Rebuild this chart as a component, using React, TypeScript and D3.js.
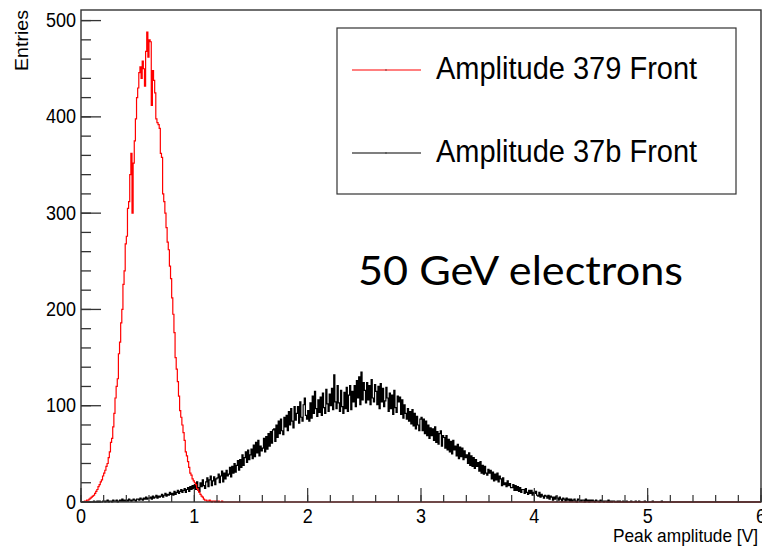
import React from "react";
import * as d3 from "d3";

const BIN = 0.01;
const NBINS = 600;

// Amplitude 379 Front, 0.01 V bins starting at 0.00 V
const redStart = 0.0;
const redCounts = [
  0, 0, 0, 1, 1, 2, 2, 3, 4, 5,
  6, 7, 9, 11, 13, 16, 18, 21, 23, 27,
  30, 33, 37, 40, 46, 52, 62, 66, 78, 92,
  108, 120, 128, 154, 166, 186, 200, 226, 240, 268,
  276, 305, 312, 340, 362, 300, 352, 375, 398, 420,
  430, 446, 452, 440, 458, 450, 432, 468, 488, 462,
  480, 478, 412, 448, 438, 425, 398, 394, 392, 388,
  362, 358, 320, 312, 300, 285, 270, 262, 245, 232,
  212, 195, 176, 150, 138, 125, 110, 95, 88, 80,
  72, 64, 52, 48, 42, 36, 30, 28, 24, 22,
  20, 18, 14, 12, 10, 8, 6, 5, 3, 2,
  2, 1, 1, 2, 1, 0, 1, 1, 0, 1,
  0, 1, 0, 0, 1, 0, 0, 0, 0, 0,
];

// Amplitude 37b Front, 0.01 V bins starting at 0.10 V
const blackStart = 0.1;
const blackCounts = [
  0, 1, 0, 0, 1, 0, 1, 0, 0, 1,
  1, 0, 1, 2, 0, 1, 1, 0, 2, 1,
  1, 2, 0, 1, 2, 1, 3, 1, 2, 1,
  2, 1, 3, 2, 1, 2, 3, 2, 1, 3,
  3, 2, 4, 3, 2, 4, 3, 5, 3, 4,
  4, 5, 3, 6, 4, 5, 7, 4, 6, 5,
  6, 8, 5, 7, 9, 6, 8, 7, 10, 8,
  9, 7, 11, 8, 10, 12, 9, 11, 13, 10,
  12, 14, 10, 13, 15, 11, 16, 13, 17, 14,
  18, 13, 21, 15, 11, 20, 16, 23, 17, 14,
  21, 25, 16, 23, 27, 17, 22, 26, 18, 24,
  25, 29, 20, 27, 32, 21, 30, 24, 33, 27,
  29, 36, 26, 37, 30, 40, 31, 38, 43, 33,
  44, 36, 49, 38, 46, 52, 41, 54, 44, 49,
  55, 45, 59, 47, 62, 51, 64, 48, 58, 53,
  56, 66, 52, 68, 55, 71, 58, 73, 61, 75,
  76, 63, 80, 67, 84, 71, 86, 74, 70, 88,
  78, 90, 74, 94, 80, 97, 84, 77, 99, 85,
  92, 99, 82, 104, 88, 84, 101, 108, 90, 86,
  95, 84, 103, 87, 110, 92, 115, 97, 89, 106,
  93, 109, 90, 113, 98, 92, 117, 102, 94, 112,
  100, 118, 96, 132, 104, 97, 121, 103, 94, 116,
  99, 92, 114, 97, 119, 94, 111, 121, 96, 115,
  104, 121, 99, 126, 108, 130, 101, 135, 106, 124,
  116, 103, 124, 106, 121, 101, 127, 108, 104, 122,
  115, 101, 120, 97, 123, 104, 118, 99, 105, 119,
  108, 94, 113, 97, 111, 91, 116, 98, 93, 110,
  104, 109, 91, 106, 87, 101, 92, 86, 97, 84,
  94, 81, 96, 79, 92, 76, 89, 80, 74, 86,
  88, 74, 86, 71, 84, 69, 80, 66, 77, 69,
  76, 64, 78, 62, 73, 60, 71, 74, 58, 69,
  67, 56, 69, 54, 65, 52, 63, 50, 64, 54,
  58, 48, 60, 45, 57, 47, 56, 44, 53, 46,
  49, 40, 51, 38, 48, 37, 46, 35, 44, 37,
  41, 32, 42, 30, 38, 29, 37, 30, 28, 34,
  30, 33, 24, 31, 22, 29, 23, 30, 21, 27,
  24, 17, 25, 18, 20, 16, 22, 17, 19, 15,
  15, 18, 12, 17, 12, 16, 11, 15, 10, 13,
  13, 9, 14, 10, 8, 12, 9, 12, 7, 10,
  9, 11, 7, 6, 10, 5, 8, 6, 4, 7,
  6, 4, 7, 3, 6, 5, 2, 5, 3, 6,
  4, 2, 5, 3, 1, 4, 3, 1, 4, 2,
  3, 1, 3, 1, 2, 3, 1, 0, 3, 2,
  2, 1, 2, 2, 0, 3, 1, 2, 0, 2,
  1, 2, 1, 0, 2, 1, 1, 0, 2, 1,
  1, 0, 1, 1, 0, 2, 0, 1, 0, 1,
  1, 0, 0, 1, 0, 1, 0, 0, 1, 0,
  0, 1, 0, 0, 0, 1, 0, 0, 0, 1,
  0, 0, 1, 0, 0, 0, 0, 1, 0, 0,
  0, 0, 0, 0, 1, 0, 0, 0, 0, 0,
  0, 0, 1, 0, 0, 0, 0, 0, 0, 0,
];

const series = [
  { label: "Amplitude 379 Front", color: "#ff0000", start: redStart, counts: redCounts },
  { label: "Amplitude 37b Front", color: "#000000", start: blackStart, counts: blackCounts },
];

const xTicks = [0, 1, 2, 3, 4, 5, 6];
const yTicks = [0, 100, 200, 300, 400, 500];

const W = 762;
const H = 547;
const font = "'Liberation Sans', Arial, Helvetica, sans-serif";
const SY = 1.09; // text in the picture is a little taller than wide

const x = d3.scaleLinear().domain([0, 6]).range([81, 761]);
const y = d3.scaleLinear().domain([0, 511]).range([502, 10]);

const line = d3
  .line<[number, number]>()
  .x((d) => x(d[0]))
  .y((d) => y(d[1]))
  .curve(d3.curveStepAfter);

function histPath(start: number, counts: number[]) {
  const full = new Array(NBINS).fill(0);
  const off = Math.round(start / BIN);
  counts.forEach((c, i) => (full[off + i] = c));
  const pts: [number, number][] = [[0, 0]];
  full.forEach((c, i) => pts.push([i * BIN, c]));
  pts.push([6, full[NBINS - 1]]);
  pts.push([6, 0]);
  return line(pts) || "";
}

export default function App() {
  const [x0, x1] = x.range();
  const [y0, y1] = y.range();
  const yMinor = d3.range(0, 511, 20);
  const xMinor = d3.range(0, 6.001, 0.2);

  return (
    <svg
      width={W}
      height={H}
      style={{ position: "absolute", left: 0, top: 0, background: "#fff" }}
      fontFamily={font}
    >
      <rect width={W} height={H} fill="#fff" />

      {/* histograms, black under red */}
      {series
        .slice()
        .reverse()
        .map((s) => (
          <path
            key={s.label}
            d={histPath(s.start, s.counts)}
            fill="none"
            stroke={s.color}
            strokeWidth={1.2}
          />
        ))}

      {/* frame */}
      <rect
        x={x0}
        y={y1}
        width={x1 - x0}
        height={y0 - y1}
        fill="none"
        stroke="#333"
        strokeWidth={1.4}
      />

      {/* y ticks */}
      {yMinor.map((v) => (
        <line key={"ym" + v} x1={x0} x2={x0 + 10} y1={y(v)} y2={y(v)} stroke="#333" strokeWidth={1.3} />
      ))}
      {yTicks.map((v) => (
        <g key={"y" + v}>
          <line x1={x0} x2={x0 + 20} y1={y(v)} y2={y(v)} stroke="#333" strokeWidth={1.3} />
          <text
            transform={`translate(${x0 - 5},${y(v) + 6.5}) scale(1,${SY})`}
            textAnchor="end"
            fontSize={18}
          >
            {v}
          </text>
        </g>
      ))}

      {/* x ticks */}
      {xMinor.map((v) => (
        <line key={"xm" + v} x1={x(v)} x2={x(v)} y1={y0} y2={y0 - 7} stroke="#333" strokeWidth={1.2} />
      ))}
      {xTicks.map((v) => (
        <g key={"x" + v}>
          <line x1={x(v)} x2={x(v)} y1={y0} y2={y0 - 14} stroke="#333" strokeWidth={1.2} />
          <text
            transform={`translate(${x(v)},${523}) scale(1,${SY})`}
            textAnchor="middle"
            fontSize={18}
          >
            {v}
          </text>
        </g>
      ))}

      {/* axis titles */}
      <text
        transform={`translate(758,542) scale(1,${SY})`}
        textAnchor="end"
        fontSize={17.3}
      >
        Peak amplitude [V]
      </text>
      <text
        transform={`translate(28,10) rotate(-90) scale(${SY},1)`}
        textAnchor="end"
        fontSize={18}
      >
        Entries
      </text>

      {/* legend */}
      <rect x={337} y={28} width={399} height={166} fill="#fff" stroke="#333" strokeWidth={1.2} />
      {series.map((s, i) => {
        const ly = 70 + i * 83;
        return (
          <g key={"leg" + s.label}>
            <line x1={352} x2={421} y1={ly} y2={ly} stroke={s.color} strokeWidth={1.2} />
            <rect x={385.5} y={ly - 0.5} width={1} height={1} fill="#000" />
            <text
              transform={`translate(436,${ly + 9}) scale(1,${SY})`}
              fontSize={29}
            >
              {s.label}
            </text>
          </g>
        );
      })}

      {/* annotation */}
      <text
        x={358}
        y={285}
        fontFamily="Lato, 'Open Sans', sans-serif"
        fontWeight={400}
        fontSize={41}
        textLength={325}
        lengthAdjust="spacingAndGlyphs"
      >
        50 GeV electrons
      </text>
    </svg>
  );
}
